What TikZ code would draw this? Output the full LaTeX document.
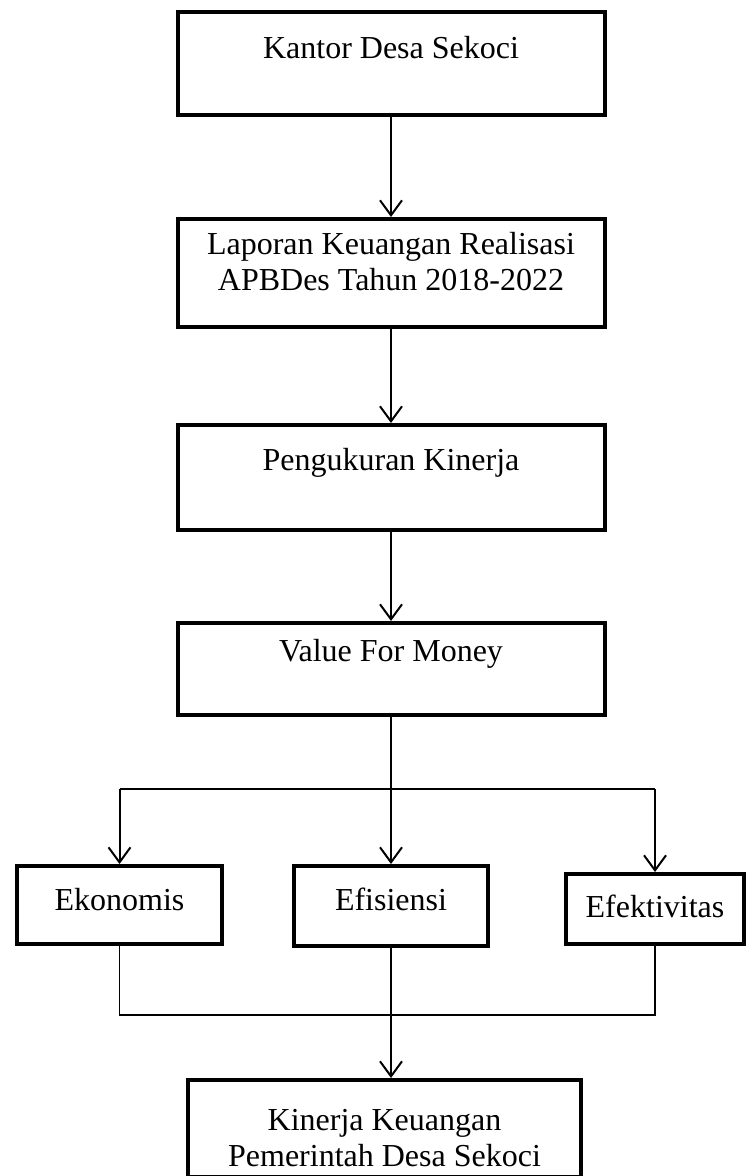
\documentclass[tikz,border=0pt]{standalone}
\usepackage{fontspec}
\setmainfont{Liberation Serif}
\usepackage{tikz}
\usetikzlibrary{calc}
\usetikzlibrary{arrows.meta}
\tikzset{kotak/.style={draw=black,line width=2pt,inner sep=0pt,anchor=north,align=center,font=\fontsize{16pt}{18pt}\selectfont}}
\tikzset{panah/.style={line width=1pt,-{Straight Barb[length=7.5pt,width=11pt,line width=1pt]}}}
\tikzset{garis/.style={line width=0.7pt}}

\begin{document}
\begin{tikzpicture}[x=0.5pt,y=-0.5pt]
        \useasboundingbox (0,0) rectangle (747,1176);
        %nodes
        \node[kotak,minimum width=213.5pt,text height=23.5pt,text depth=28pt] (kantor) at (391,10) {Kantor Desa Sekoci};
        \node[kotak,minimum width=213.5pt,text height=36pt,text depth=18pt] (laporan) at (391,217) {Laporan Keuangan Realisasi\\APBDes Tahun 2018-2022};
        \node[kotak,minimum width=213.5pt,text height=22.5pt,text depth=30pt] (ukur) at (391,423) {Pengukuran Kinerja};
        \node[kotak,minimum width=213.5pt,text height=19pt,text depth=27pt] (vfm) at (391,621) {Value For Money};
        \node[kotak,minimum width=102.5pt,text height=22pt,text depth=17pt] (ekonomis) at (119.5,864) {Ekonomis};
        \node[kotak,minimum width=97pt,text height=22pt,text depth=18pt] (efisiensi) at (391,864) {Efisiensi};
        \node[kotak,minimum width=89pt,text height=21.5pt,text depth=13.5pt] (efektivitas) at (655,872) {Efektivitas};
        \node[kotak,minimum width=196.5pt,text height=43pt,text depth=5.5pt] (kinerja) at (384.5,1078) {Kinerja Keuangan\\Pemerintah Desa Sekoci};
        \coordinate (cabang) at (391,789);
        \coordinate (gabung) at (391,1015);

        %edges
        \draw[panah] (kantor) -- (laporan);
        \draw[panah] (laporan) -- (ukur);
        \draw[panah] (ukur) -- (vfm);
        \draw[panah] (vfm) -- (efisiensi);
        \draw[garis] (cabang -| ekonomis.north) -- (cabang -| efektivitas.north);
        \draw[panah] (cabang -| ekonomis.north) -- (ekonomis.north);
        \draw[panah] (cabang -| efektivitas.north) -- (efektivitas.north);
        \draw[garis] (ekonomis.south) -- (gabung -| ekonomis.south) -- (gabung -| efektivitas.south) -- (efektivitas.south);
        \draw[panah] (efisiensi.south) -- (kinerja.north -| efisiensi.south);
\end{tikzpicture}
\end{document}
